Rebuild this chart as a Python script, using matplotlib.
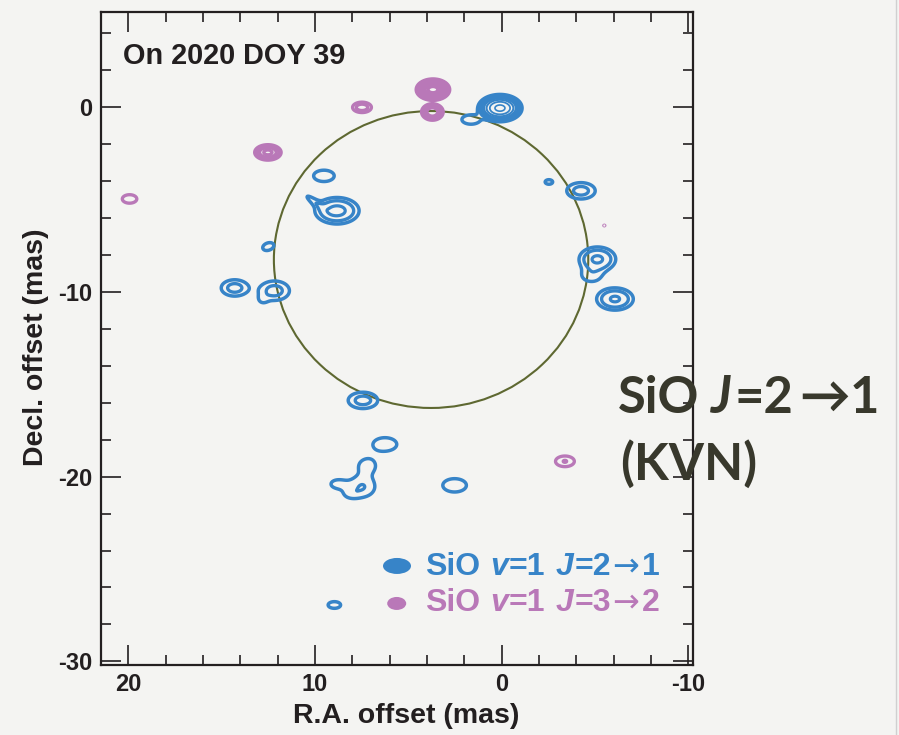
import numpy as np
import matplotlib.pyplot as plt
from matplotlib.patches import Ellipse
from matplotlib.lines import Line2D
from matplotlib.ticker import MultipleLocator

plt.rcParams["font.family"] = ["Liberation Sans", "DejaVu Sans"]
plt.rcParams["font.weight"] = "bold"
plt.rcParams["axes.labelweight"] = "bold"
plt.rcParams["axes.unicode_minus"] = False

BLUE = "#3784c8"
PINK = "#b978b8"
INK = "#231f20"
OLIVE = "#5e6831"
PAPER = "#f4f4f2"

# SiO v=1 J=2-1 maser components
# RA / Dec offset (mas), gaussian widths (mas), position angle (deg), peak in units of lowest contour
j21_ra = [0.09, 1.64, -2.53, -4.25, -5.13, -4.80, -6.07, 9.52, 8.82, 10.05, 12.50,
          14.30, 12.17, 12.80, 7.43, 6.25, 7.45, 7.20, 8.80, 8.10, 2.52, 8.96]
j21_dec = [-0.04, -0.66, -4.04, -4.52, -8.22, -9.12, -10.38, -3.71, -5.60, -5.10, -7.54,
           -9.78, -9.93, -10.42, -15.87, -18.25, -20.55, -19.40, -20.40, -20.95, -20.47, -26.95]
j21_sx = [0.40, 0.54, 0.22, 0.55, 0.565, 0.50, 0.57, 0.61, 0.66, 0.55, 0.34,
          0.52, 0.58, 0.22, 0.57, 0.70, 0.55, 0.50, 0.45, 0.35, 0.70, 0.37]
j21_sy = [0.25, 0.28, 0.135, 0.32, 0.38, 0.33, 0.35, 0.34, 0.40, 0.13, 0.22,
          0.32, 0.38, 0.20, 0.32, 0.40, 0.45, 0.40, 0.28, 0.22, 0.40, 0.20]
j21_pa = [0, 0, 0, 0, 0, 0, 0, 0, 0, 37, -20,
          0, 0, 0, 0, 0, 0, 0, 0, 0, 0, 0]
j21_peak = [80, 1.5, 1.5, 2.6, 4.5, 1.5, 4.4, 1.5, 5.0, 1.35, 1.5,
            2.6, 2.6, 0.9, 2.6, 1.5, 2.0, 1.4, 1.3, 1.0, 1.5, 1.5]

# SiO v=1 J=3-2 maser components
j32_ra = [3.68, 3.71, 7.48, 12.52, 19.93, -3.39, -5.50]
j32_dec = [0.96, -0.25, 0.00, -2.44, -4.96, -19.17, -6.40]
j32_sx = [0.276, 0.246, 0.34, 0.33, 0.43, 0.42, 0.05]
j32_sy = [0.178, 0.19, 0.19, 0.195, 0.255, 0.24, 0.04]
j32_pa = [0, 0, 0, 0, 0, 0, 0]
j32_peak = [200, 16, 3.0, 10, 1.5, 2.05, 1.15]

# stellar disk
disk_ra, disk_dec = 3.78, -8.24
disk_width, disk_height = 16.84, 16.08

levels = [1, 2, 4, 8, 16, 32, 64, 128, 256]
j21_widths = [2.5, 2.4, 2.3, 1.8, 1.5, 1.3, 1.2, 1.1, 1.0]

ra = np.arange(-11, 22.5, 0.025)
dec = np.arange(-31, 6, 0.025)
RA, DEC = np.meshgrid(ra, dec)


def gauss_map(x0s, y0s, sxs, sys_, pas, peaks):
    z = np.zeros_like(RA)
    for x0, y0, sx, sy, pa, pk in zip(x0s, y0s, sxs, sys_, pas, peaks):
        t = np.deg2rad(pa)
        dx = RA - x0
        dy = DEC - y0
        u = dx * np.cos(t) + dy * np.sin(t)
        v = -dx * np.sin(t) + dy * np.cos(t)
        z += pk * np.exp(-0.5 * ((u / sx) ** 2 + (v / sy) ** 2))
    return z


z21 = gauss_map(j21_ra, j21_dec, j21_sx, j21_sy, j21_pa, j21_peak)
z32 = gauss_map(j32_ra, j32_dec, j32_sx, j32_sy, j32_pa, j32_peak)

W, H = 899, 735
fig = plt.figure(figsize=(W / 100, H / 100), dpi=100, facecolor=PAPER)
ax = fig.add_axes([101 / W, 1 - 665 / H, 592 / W, 653.3 / H])
ax.set_facecolor("none")

ax.contour(RA, DEC, z21, levels=levels, colors=BLUE, linewidths=j21_widths)
ax.contour(RA, DEC, z32, levels=levels, colors=PINK, linewidths=2.4)
ax.add_patch(Ellipse((disk_ra, disk_dec), disk_width, disk_height,
                     fill=False, ec=OLIVE, lw=1.5))

ax.set_xlim(21.46, -10.25)
ax.set_ylim(-30.2, 5.18)

for axis in (ax.xaxis, ax.yaxis):
    axis.set_major_locator(MultipleLocator(10))
    axis.set_minor_locator(MultipleLocator(2))
ax.tick_params(which="both", direction="in", top=True, right=True, color=INK,
               width=1.2, labelsize=17, labelcolor=INK, pad=6)
ax.tick_params(which="major", length=14.5)
ax.tick_params(which="minor", length=7.2)
for s in ax.spines.values():
    s.set_linewidth(1.6)
    s.set_color(INK)

ax.set_xlabel("R.A. offset (mas)", fontsize=20.5, fontweight="bold", color=INK,
              va="baseline")
ax.xaxis.set_label_coords(0.515, -0.0888)
ax.set_ylabel("Decl. offset (mas)", fontsize=20.5, fontweight="bold", color=INK,
              va="baseline", rotation_mode="anchor")
ax.yaxis.set_label_coords(-0.098, 0.487)

fig.text(123 / W, 1 - 64 / H, "On 2020 DOY 39", fontsize=20.8, color=INK,
         va="baseline")

# legend keys
ax.add_patch(Ellipse((0.5, 0.1516), 0.0473, 0.0245, transform=ax.transAxes,
                     fc=BLUE, ec="none"))
ax.add_patch(Ellipse((0.4995, 0.0942), 0.0321, 0.0199, transform=ax.transAxes,
                     fc=PINK, ec="none"))


def rich_text(x, y, parts, size, color, family):
    # x, y: pixels from the top-left corner, y is the baseline
    renderer = fig.canvas.get_renderer()
    for s, style, weight, fam, gap in parts:
        t = fig.text(x / W, 1 - y / H, s, fontsize=size, color=color,
                     family=fam or family, fontweight=weight, fontstyle=style,
                     va="baseline", zorder=5)
        x += t.get_window_extent(renderer).width + gap


sans = ["Liberation Sans", "DejaVu Sans"]
for y, color, upper, lower in [(575, BLUE, "2", "1"), (611, PINK, "3", "2")]:
    rich_text(425, y, [("SiO", "normal", "bold", None, 10),
                       ("v", "italic", "bold", None, 1),
                       ("=1", "normal", "bold", None, 10),
                       ("J", "italic", "bold", None, 1),
                       ("=" + upper, "normal", "bold", None, 2),
                       ("\u2192", "normal", "normal", "DejaVu Sans", 2),
                       (lower, "normal", "bold", None, 0)], 23, color, sans)

big = ["Lato", "DejaVu Sans"]
rich_text(618, 413, [("SiO", "normal", "bold", None, 12),
                     ("J", "italic", "bold", None, 2),
                     ("=2", "normal", "bold", None, 6),
                     ("\u2192", "normal", "bold", None, 0),
                     ("1", "normal", "bold", None, 0)], 36.5, "#38382c", big)
rich_text(620, 480, [("(KVN)", "normal", "bold", None, 0)], 36.5, "#38382c", big)

fig.add_artist(Line2D([896 / W, 896 / W], [0, 1], transform=fig.transFigure,
                      color="#d0d0d0", lw=1))

fig.savefig("out.png", dpi=100, facecolor=PAPER)
